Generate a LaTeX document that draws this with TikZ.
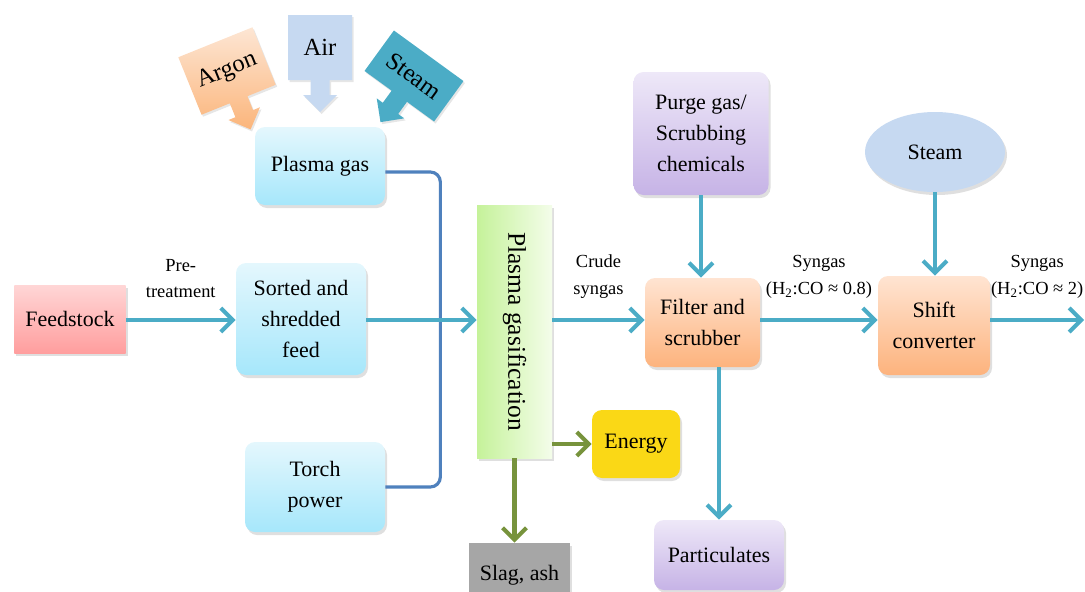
\documentclass[tikz,border=0pt]{standalone}
\usepackage{fontspec}
\setmainfont{Liberation Serif}
\usepackage{tikz}
\usetikzlibrary{positioning, arrows.meta, shapes.geometric, shadows}
\usepackage{xcolor}

\definecolor{flowblue}{HTML}{4BACC6}
\definecolor{flowgreen}{HTML}{77933C}
\definecolor{linkblue}{HTML}{4F81BD}
\definecolor{bluetop}{HTML}{E4F7FD}
\definecolor{bluebot}{HTML}{A6E7FB}
\definecolor{pinktop}{HTML}{FFD6D6}
\definecolor{pinkbot}{HTML}{FF9E9E}
\definecolor{orangetop}{HTML}{FFE4D2}
\definecolor{orangebot}{HTML}{FDB37D}
\definecolor{purpletop}{HTML}{EEE8F8}
\definecolor{purplebot}{HTML}{C6B3E6}
\definecolor{gasleft}{HTML}{C5F29A}
\definecolor{gasright}{HTML}{F4FDEA}
\definecolor{energyfill}{HTML}{FAD816}
\definecolor{slagfill}{HTML}{A6A6A6}
\definecolor{steamfill}{HTML}{C6D9F1}
\definecolor{argontop}{HTML}{FDE6D4}
\definecolor{argonbot}{HTML}{FBB57B}

\newcommand{\unitfont}{\rmfamily\fontsize{12.5}{17.5}\selectfont}
\newcommand{\tagfont}{\rmfamily\fontsize{10.5}{15}\selectfont}

% name, position, angle, width, height, fill, text
\newcommand{\gasfeed}[7]{%
  \begin{scope}[shift={#2}, rotate=#3]
    \path[#6, drop shadow={shadow xshift=0.03cm, shadow yshift=-0.04cm, opacity=0.2}]
      (-#4/2,#5/2) -- (#4/2,#5/2) -- (#4/2,-#5/2) -- (0.19,-#5/2)
      -- (0.19,-#5/2-0.3) -- (0.34,-#5/2-0.3) -- (0,-#5/2-0.64)
      -- (-0.34,-#5/2-0.3) -- (-0.19,-#5/2-0.3) -- (-0.19,-#5/2)
      -- (-#4/2,-#5/2) -- cycle;
    \node[transform shape, font=\rmfamily\fontsize{14}{17}\selectfont] (#1) at (0,0) {#7};
  \end{scope}}

\begin{document}
\begin{tikzpicture}[
        node distance=0.8cm,
        unit/.style={rounded corners=0.2cm, align=center, font=\unitfont,
                     drop shadow={shadow xshift=0.04cm, shadow yshift=-0.06cm, opacity=0.25}},
        flat/.style={unit, rounded corners=0pt},
        bluebox/.style={top color=bluetop, bottom color=bluebot},
        orangebox/.style={top color=orangetop, bottom color=orangebot},
        purplebox/.style={top color=purpletop, bottom color=purplebot},
        flow/.style={-{Straight Barb[length=2.4mm, width=4.8mm]}, line width=2.3pt, flowblue},
        waste/.style={flow, flowgreen},
        link/.style={line width=1.8pt, linkblue, rounded corners=0.2cm},
        tag/.style={align=center, font=\tagfont, text=black, above=0.28cm},
    ]
        \useasboundingbox (0,0) rectangle (21.7,11.82);
        \coordinate (main) at (0,5.42);

        \node[flat, top color=pinktop, bottom color=pinkbot,
              minimum width=2.22cm, minimum height=1.36cm] (feed) at (1.40,5.44) {Feedstock};
        \node[unit, bluebox, minimum width=2.6cm, minimum height=2.24cm] (sorted) at (6.02,5.44)
            {Sorted and\\shredded\\feed};
        \node[unit, bluebox, minimum width=2.6cm, minimum height=1.56cm] (pgas) at (6.40,8.50)
            {Plasma gas};
        \node[unit, bluebox, minimum width=2.8cm, minimum height=1.8cm] (torch) at (6.30,2.08)
            {Torch\\power};

        \node[flat, rotate=-90, left color=gasleft, right color=gasright,
              minimum width=5.06cm, minimum height=1.5cm, font=\rmfamily\fontsize{14.5}{17}\selectfont]
            (gasif) at (10.29,5.19) {Plasma gasification};
        \node[unit, fill=energyfill, minimum width=1.76cm, minimum height=1.36cm] (energy)
            at (12.72,2.94) {Energy};
        \node[flat, fill=slagfill, minimum width=2.02cm, minimum height=1.28cm] (slag)
            at (10.39,0.32) {Slag, ash};

        \node[unit, orangebox, minimum width=2.3cm, minimum height=1.78cm] (filter) at (14.05,5.37)
            {Filter and\\scrubber};
        \node[unit, purplebox, minimum width=2.7cm, minimum height=2.46cm] (purge) at (14.02,9.15)
            {Purge gas/\\Scrubbing\\chemicals};
        \node[unit, purplebox, minimum width=2.6cm, minimum height=1.4cm] (part) at (14.38,0.72)
            {Particulates};

        \node[unit, orangebox, minimum width=2.24cm, minimum height=1.98cm] (shift) at (18.68,5.31)
            {Shift\\converter};
        \node[ellipse, fill=steamfill, font=\unitfont, minimum width=2.8cm, minimum height=1.6cm,
              drop shadow={shadow xshift=0.04cm, shadow yshift=-0.06cm, opacity=0.25}]
            (steam) at (18.70,8.78) {Steam};
        \coordinate (out) at (21.68,5.42);

        \gasfeed{argon}{(4.54,10.40)}{22}{1.6}{1.24}{top color=argontop, bottom color=argonbot}{Argon}
        \gasfeed{air}{(6.40,10.87)}{0}{1.28}{1.30}{fill=steamfill}{Air}
        \gasfeed{steamin}{(8.28,10.30)}{-36}{1.72}{1.0}{fill=flowblue}{Steam}

        \draw[link] ([yshift=-0.12cm]pgas.east) -- ++(1.1,0) |- (torch.east);

        \draw[flow] (feed.east |- main) -- node[tag] {Pre-\\treatment} (sorted.west |- main);
        \draw[flow] (sorted.east |- main) -- (gasif.south |- main);
        \draw[flow] (gasif.north |- main) -- node[tag] {Crude\\syngas} (filter.west |- main);
        \draw[flow] (filter.east |- main) -- node[tag] {Syngas\\(H\textsubscript{2}:CO ≈ 0.8)} (shift.west |- main);
        \draw[flow] (shift.east |- main) -- node[tag] {Syngas\\(H\textsubscript{2}:CO ≈ 2)} (out);
        \draw[flow] (purge.south) -- (purge.south |- filter.north);
        \draw[flow] (filter.south -| part.north) -- (part.north);
        \draw[flow] (steam.south) -- (steam.south |- shift.north);

        \draw[waste] (gasif.north |- energy.west) -- (energy.west);
        \draw[waste] (gasif.east) -- (gasif.east |- slag.north);
    \end{tikzpicture}
\end{document}
